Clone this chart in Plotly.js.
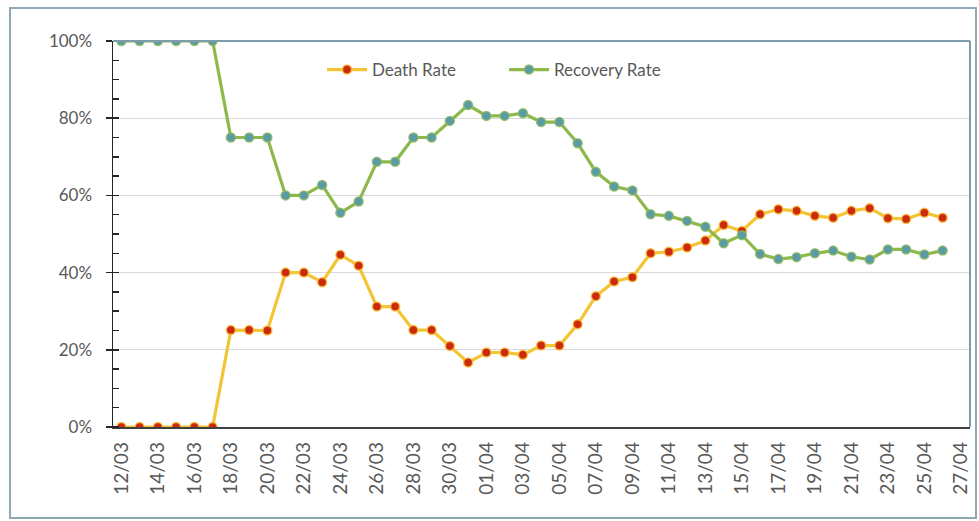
<!DOCTYPE html>
<html>
<head>
<meta charset="utf-8">
<script src="https://cdn.plot.ly/plotly-3.0.1.min.js"></script>
<style>
  html, body { margin: 0; padding: 0; background: #ffffff; }
  #chart { width: 979px; height: 521px; }
</style>
</head>
<body>
<div id="chart"></div>
<script>
// Dates (daily, 12/03 to 26/04)
const dates = [
  '2020-03-12','2020-03-13','2020-03-14','2020-03-15','2020-03-16','2020-03-17',
  '2020-03-18','2020-03-19','2020-03-20','2020-03-21','2020-03-22','2020-03-23',
  '2020-03-24','2020-03-25','2020-03-26','2020-03-27','2020-03-28','2020-03-29',
  '2020-03-30','2020-03-31','2020-04-01','2020-04-02','2020-04-03','2020-04-04',
  '2020-04-05','2020-04-06','2020-04-07','2020-04-08','2020-04-09','2020-04-10',
  '2020-04-11','2020-04-12','2020-04-13','2020-04-14','2020-04-15','2020-04-16',
  '2020-04-17','2020-04-18','2020-04-19','2020-04-20','2020-04-21','2020-04-22',
  '2020-04-23','2020-04-24','2020-04-25','2020-04-26'
];

// Death rate (%)
const deathRate = [
  0, 0, 0, 0, 0, 0,
  25.1, 25.1, 25, 40, 40, 37.5, 44.6, 41.8, 31.2, 31.2, 25.1, 25.1, 21, 16.7,
  19.3, 19.3, 18.7, 21.1, 21.1, 26.6, 33.9, 37.7, 38.8, 45, 45.4,
  46.5, 48.3, 52.3, 50.8, 55.1, 56.4, 56, 54.7, 54.2, 56, 56.7, 54.1, 53.9, 55.5, 54.2
];

// Recovery rate (%)
const recoveryRate = [
  100, 100, 100, 100, 100, 100,
  75, 75, 75, 60, 60, 62.7, 55.5, 58.4, 68.7, 68.7, 75, 75, 79.3, 83.4,
  80.6, 80.6, 81.3, 79, 79, 73.5, 66.1, 62.3, 61.3, 55.1, 54.7,
  53.4, 51.9, 47.6, 49.7, 44.8, 43.5, 44, 45, 45.7, 44.1, 43.4, 46, 46, 44.7, 45.7
];

const seriesNames = ['Death Rate', 'Recovery Rate'];
const yTickVals = [0, 20, 40, 60, 80, 100];
const yTickText = ['0%', '20%', '40%', '60%', '80%', '100%'];
const xRange = ['2020-03-11 13:00', '2020-04-27 12:00'];
const xTick0 = '2020-03-12';

const traces = [
  {
    x: dates, y: deathRate, name: seriesNames[0],
    type: 'scatter', mode: 'lines+markers',
    line: { color: '#F2C534', width: 3.2 },
    marker: { color: '#CC2A0C', size: 9, line: { color: 'rgba(250,190,60,0.85)', width: 1.5 } }
  },
  {
    x: dates, y: recoveryRate, name: seriesNames[1],
    type: 'scatter', mode: 'lines+markers',
    line: { color: '#8CB94A', width: 3.2 },
    marker: { color: '#5B9BA6', size: 9, line: { color: 'rgba(140,185,90,0.8)', width: 1.5 } }
  }
];

const pl = 113, pr = 970, pt = 41, pb = 427;
const pw = pr - pl, ph = pb - pt;
function px(x) { return (x - pl) / pw; }
function py(y) { return (pb - y) / ph; }

const layout = {
  width: 979, height: 521,
  margin: { l: pl, r: 979 - pr, t: pt, b: 521 - pb, pad: 0 },
  paper_bgcolor: '#ffffff', plot_bgcolor: '#ffffff',
  font: { family: 'Lato, "Open Sans", sans-serif', color: '#595959', size: 17 },
  showlegend: true,
  legend: {
    orientation: 'h', x: px(322), xanchor: 'left', y: py(70), yanchor: 'middle',
    font: { size: 17, color: '#595959' }, itemwidth: 40, entrywidth: 127,
    bgcolor: 'rgba(0,0,0,0)'
  },
  xaxis: {
    type: 'date', range: xRange, tick0: xTick0, dtick: 2 * 86400000,
    tickformat: '%d/%m', tickangle: -90, ticks: '',
    tickfont: { size: 19, color: '#595959' },
    showgrid: false, zeroline: false,
    showline: true, linecolor: '#404040', linewidth: 1.5,
    ticklabelstandoff: 6
  },
  yaxis: {
    range: [0, 100], tickmode: 'array', tickvals: yTickVals, ticktext: yTickText,
    ticks: 'outside', ticklen: 6, tickcolor: '#262626', tickwidth: 1.5,
    showline: true, linecolor: '#262626', linewidth: 1.5,
    showgrid: true, gridcolor: '#D9D9D9', gridwidth: 1.2,
    zeroline: false,
    tickfont: { size: 17, color: '#595959' },
    ticklabelstandoff: 10,
    minor: { dtick: 5, ticks: 'inside', ticklen: 6, tickcolor: '#262626', tickwidth: 1.5, showgrid: false }
  },
  shapes: [
    { type: 'line', xref: 'paper', yref: 'paper', x0: 0, x1: 1, y0: 1, y1: 1,
      line: { color: '#7E9DAB', width: 2 } },
    { type: 'line', xref: 'paper', yref: 'paper', x0: 1, x1: 1, y0: 0, y1: 1,
      line: { color: '#7E9DAB', width: 2 } },
    { type: 'rect', xref: 'paper', yref: 'paper',
      x0: px(10), x1: px(976), y0: py(518), y1: py(8),
      line: { color: '#8FA9B4', width: 2 }, fillcolor: 'rgba(0,0,0,0)', layer: 'below' }
  ]
};

Plotly.newPlot('chart', traces, layout, { displayModeBar: false, staticPlot: true });
</script>
</body>
</html>
